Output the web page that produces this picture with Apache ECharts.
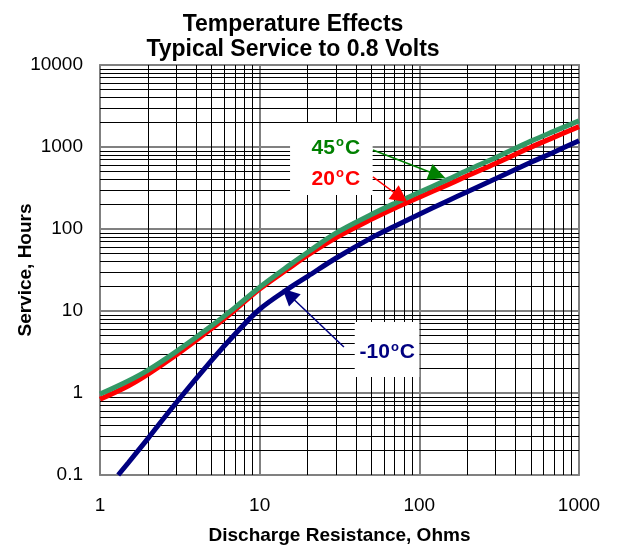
<!DOCTYPE html>
<html>
<head>
<meta charset="utf-8">
<script src="https://cdn.jsdelivr.net/npm/echarts@6/dist/echarts.min.js"></script>
<style>html,body{margin:0;padding:0;background:#fff}</style>
</head>
<body>
<div id="tempChart" style="width:618px;height:545px"></div>
<script>
// service hours vs discharge resistance
const res45 = [1, 1.5, 2, 3, 5, 7, 10, 15, 20, 30, 50, 70, 100, 150, 200, 300, 500, 700, 1000];
const hrs45 = [0.97, 1.4, 1.9, 3.2, 6.6, 11, 19.5, 35, 52, 89, 150, 205, 280, 400, 520, 740, 1180, 1560, 2090];
const res20 = [1, 1.5, 2, 3, 5, 7, 10, 15, 20, 30, 50, 70, 100, 150, 200, 300, 500, 700, 1000];
const hrs20 = [0.84, 1.22, 1.7, 2.9, 6.1, 10.3, 18.5, 32.5, 48, 78, 131, 179, 244, 345, 445, 630, 995, 1320, 1770];
const resM10 = [1.3, 1.5, 2, 3, 5, 7, 10, 15, 20, 30, 50, 70, 100, 150, 200, 300, 500, 700, 1000];
const hrsM10 = [0.1, 0.14, 0.28, 0.76, 2.5, 5.2, 10.5, 18.5, 26.5, 44, 78, 108, 151, 220, 285, 410, 650, 870, 1194];

const xTicks = ['1', '10', '100', '1000'];
const yTicks = ['0.1', '1', '10', '100', '1000', '10000'];

const FONT = '"Liberation Sans", Arial, sans-serif';

function pairs(xs, ys) {
  return xs.map((x, i) => [x, ys[i]]);
}

// log paper: lines at 2..9 of each decade
const minorX = [];
for (let d = 1; d < 1000; d *= 10) for (let k = 2; k <= 9; k++) minorX.push(d * k);
const minorY = [];
[0.1, 1, 10, 100, 1000].forEach(d => { for (let k = 2; k <= 9; k++) minorY.push(+(d * k).toPrecision(6)); });

function arrow(color, from, to) {
  return {
    silent: true,
    z: 4,
    animation: false,
    symbol: ['none', 'triangle'],
    symbolSize: 17,
    label: { show: false },
    emphasis: { disabled: true },
    itemStyle: { color: color },
    lineStyle: { color: color, width: 1.5, type: 'solid' },
    data: [[{ coord: from }, { coord: to }]]
  };
}

let myChart = echarts.init(document.getElementById('tempChart'));
let option = {
  animation: false,
  title: {
    text: 'Temperature Effects\nTypical Service to 0.8 Volts',
    left: 288,
    top: 7,
    textAlign: 'center',
    textStyle: { fontSize: 23, fontWeight: 'bold', color: '#000', fontFamily: FONT, lineHeight: 25 }
  },
  grid: {
    left: 100, right: 39, top: 65, bottom: 70,
    outerBoundsMode: 'none',
    show: true, borderColor: '#8c8c8c', borderWidth: 2, backgroundColor: '#fff'
  },
  xAxis: {
    type: 'log',
    logBase: 10,
    min: 1,
    max: 1000,
    name: 'Discharge Resistance, Ohms',
    nameLocation: 'middle',
    nameGap: 51,
    nameMoveOverlap: false,
    nameTextStyle: { fontSize: 19, fontWeight: 'bold', color: '#000', fontFamily: FONT },
    axisLine: { show: false },
    axisTick: { show: false },
    axisLabel: {
      fontSize: 19, color: '#000', fontFamily: FONT, margin: 21,
      formatter: v => xTicks.find(t => Math.abs(+t - v) / v < 1e-6) || ''
    },
    splitLine: { show: true, lineStyle: { color: '#808080', width: 2 } }
  },
  yAxis: {
    type: 'log',
    logBase: 10,
    min: 0.1,
    max: 10000,
    name: 'Service, Hours',
    nameLocation: 'middle',
    nameGap: 65,
    nameMoveOverlap: false,
    nameTextStyle: { fontSize: 19, fontWeight: 'bold', color: '#000', fontFamily: FONT },
    axisLine: { show: false },
    axisTick: { show: false },
    axisLabel: {
      fontSize: 19, color: '#000', fontFamily: FONT, margin: 17,
      formatter: v => yTicks.find(t => Math.abs(+t - v) / v < 1e-6) || ''
    },
    splitLine: { show: true, lineStyle: { color: '#808080', width: 2 } }
  },
  series: [
    {
      name: 'grid',
      type: 'line',
      data: [],
      silent: true,
      z: 1,
      markLine: {
        silent: true,
        z: 1,
        animation: false,
        symbol: 'none',
        label: { show: false },
        emphasis: { disabled: true },
        lineStyle: { color: '#000', width: 1, type: 'solid' },
        data: minorX.map(v => ({ xAxis: v })).concat(minorY.map(v => ({ yAxis: v })))
      }
    },
    {
      name: '-10°C',
      type: 'line',
      data: pairs(resM10, hrsM10),
      symbol: 'none',
      smooth: 0.35,
      z: 3,
      lineStyle: { color: '#000080', width: 5 },
      markLine: arrow('#000080', [33.7, 3.64], [15.2, 15.9])
    },
    {
      name: '20°C',
      type: 'line',
      data: pairs(res20, hrs20),
      symbol: 'none',
      smooth: 0.35,
      z: 3,
      lineStyle: { color: '#ff0000', width: 5 },
      markLine: arrow('#ff0000', [51.2, 431], [76.2, 244])
    },
    {
      name: '45°C',
      type: 'line',
      data: pairs(res45, hrs45),
      symbol: 'none',
      smooth: 0.35,
      z: 3,
      lineStyle: { color: '#339966', width: 5 },
      markLine: arrow('#008000', [51.2, 919], [129.8, 456])
    }
  ]
};
myChart.setOption(option);

// white label boxes and the curve labels, placed in data coordinates
const boxes = [[15.5, 1963, 51, 260], [39.4, 7.35, 100, 1.57]];
const labels = [
  { at: [30, 1000], num: '45', color: '#008000' },
  { at: [30, 420], num: '20', color: '#ff0000' },
  { at: [63, 3.2], num: '-10', color: '#000080' }
];
const toPx = p => myChart.convertToPixel({ gridIndex: 0 }, p);
let graphic = [];
boxes.forEach(b => {
  const p0 = toPx([b[0], b[1]]);
  const p1 = toPx([b[2], b[3]]);
  graphic.push({
    type: 'rect', z: 2, silent: true,
    shape: { x: Math.min(p0[0], p1[0]), y: Math.min(p0[1], p1[1]), width: Math.abs(p1[0] - p0[0]), height: Math.abs(p1[1] - p0[1]) },
    style: { fill: '#fff' }
  });
});
labels.forEach(l => {
  const p = toPx(l.at);
  graphic.push({
    type: 'text', z: 6, silent: true, x: p[0], y: p[1] + 1,
    style: {
      text: '{n|' + l.num + '}{s|o}{n|C}',
      align: 'center', verticalAlign: 'middle',
      textAlign: 'center', textVerticalAlign: 'middle',
      rich: {
        n: { fontSize: 21, fontWeight: 'bold', fontFamily: FONT, fill: l.color, lineHeight: 24 },
        s: { fontSize: 13, fontWeight: 'bold', fontFamily: FONT, fill: l.color, verticalAlign: 'top', lineHeight: 24, padding: [0, 1, 0, 1] }
      }
    }
  });
});
myChart.setOption({ graphic: graphic });
</script>
</body>
</html>
